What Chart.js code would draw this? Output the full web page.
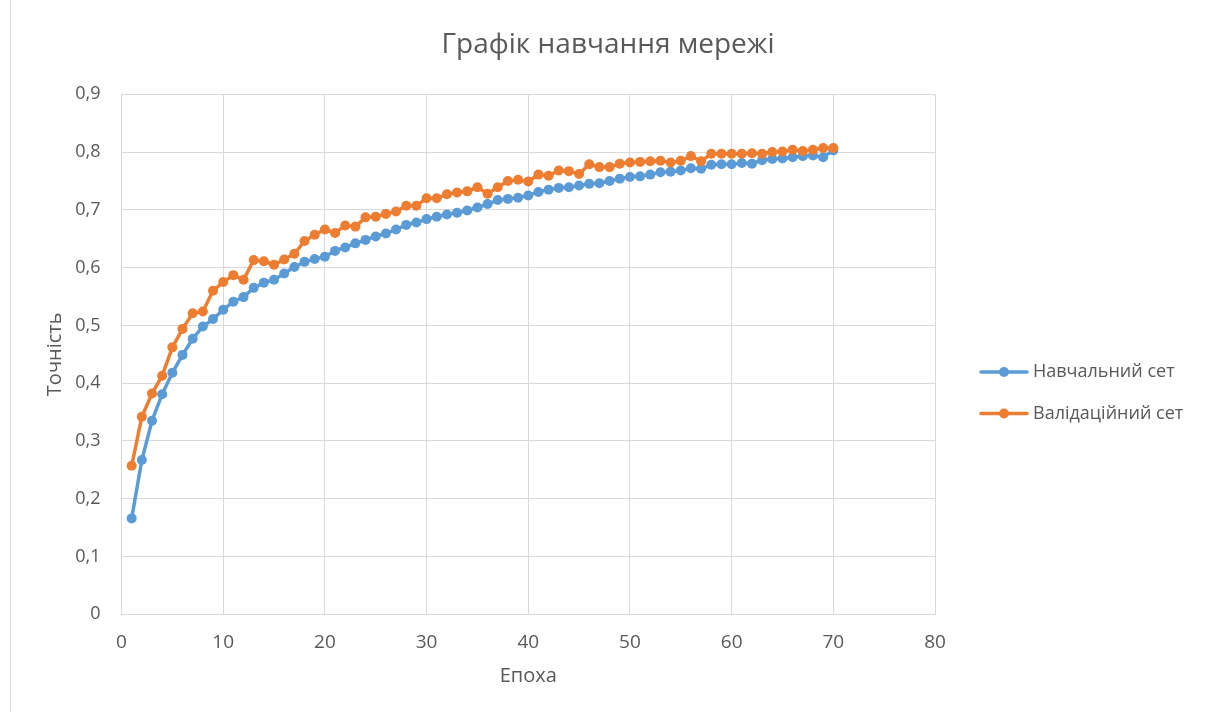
<!DOCTYPE html>
<html lang="uk">
<head>
<meta charset="utf-8">
<title>Графік навчання мережі</title>
<script src="https://cdn.jsdelivr.net/npm/chart.js@4.4.1/dist/chart.umd.min.js"></script>
<style>
  html, body { margin: 0; padding: 0; background: #ffffff; }
  #wrap { width: 1210px; height: 712px; position: relative; }
  canvas { display: block; }
</style>
</head>
<body>
<div id="wrap"><canvas id="chart" width="1210" height="712"></canvas></div>
<script>
// Epochs (x values)
const epochs = [
  1, 2, 3, 4, 5, 6, 7, 8, 9, 10,
  11, 12, 13, 14, 15, 16, 17, 18, 19, 20,
  21, 22, 23, 24, 25, 26, 27, 28, 29, 30,
  31, 32, 33, 34, 35, 36, 37, 38, 39, 40,
  41, 42, 43, 44, 45, 46, 47, 48, 49, 50,
  51, 52, 53, 54, 55, 56, 57, 58, 59, 60,
  61, 62, 63, 64, 65, 66, 67, 68, 69, 70
];

// Accuracy on the training set
const trainAccuracy = [
  0.166, 0.267, 0.335, 0.381, 0.418, 0.449, 0.477, 0.498, 0.511, 0.527,
  0.541, 0.549, 0.565, 0.574, 0.579, 0.590, 0.601, 0.610, 0.615, 0.619,
  0.629, 0.635, 0.642, 0.648, 0.654, 0.659, 0.666, 0.674, 0.678, 0.684,
  0.688, 0.692, 0.695, 0.699, 0.704, 0.710, 0.717, 0.719, 0.721, 0.725,
  0.731, 0.735, 0.738, 0.739, 0.742, 0.745, 0.746, 0.750, 0.754, 0.757,
  0.758, 0.761, 0.765, 0.766, 0.768, 0.772, 0.771, 0.778, 0.779, 0.779,
  0.781, 0.780, 0.786, 0.788, 0.789, 0.791, 0.793, 0.794, 0.791, 0.803
];

// Accuracy on the validation set
const valAccuracy = [
  0.257, 0.342, 0.382, 0.413, 0.462, 0.494, 0.521, 0.524, 0.560, 0.575,
  0.587, 0.579, 0.613, 0.611, 0.605, 0.614, 0.624, 0.646, 0.657, 0.666,
  0.660, 0.673, 0.671, 0.687, 0.688, 0.693, 0.697, 0.707, 0.707, 0.720,
  0.720, 0.727, 0.730, 0.732, 0.739, 0.728, 0.739, 0.750, 0.752, 0.749,
  0.761, 0.759, 0.768, 0.767, 0.762, 0.779, 0.774, 0.774, 0.780, 0.782,
  0.783, 0.784, 0.785, 0.782, 0.785, 0.793, 0.784, 0.797, 0.797, 0.797,
  0.797, 0.798, 0.797, 0.800, 0.801, 0.804, 0.802, 0.804, 0.807, 0.807
];

const chartTitle = 'Графік навчання мережі';
const seriesNames = ['Навчальний сет', 'Валідаційний сет'];
const seriesColors = ['#5B9BD5', '#ED7D31'];

// Axis ticks
const xTicks = [0, 10, 20, 30, 40, 50, 60, 70, 80];
const yTickLabels = ['0', '0,1', '0,2', '0,3', '0,4', '0,5', '0,6', '0,7', '0,8', '0,9'];

const TEXT = '#595959';
const GRID = '#D9D9D9';
const SANS = '"Open Sans", "Noto Sans", "DejaVu Sans", sans-serif';
const NARROW = '"Liberation Sans Narrow", "Open Sans", "Noto Sans", sans-serif';

const toPoints = (ys) => epochs.map((e, i) => ({ x: e, y: ys[i] }));

// Title centred on the whole canvas
const pageTitle = {
  id: 'pageTitle',
  afterDraw(chart) {
    const ctx = chart.ctx;
    ctx.save();
    ctx.fillStyle = TEXT;
    ctx.font = '28px ' + SANS;
    ctx.textAlign = 'center';
    ctx.textBaseline = 'middle';
    ctx.fillText(chartTitle, 608, 45);
    ctx.restore();
  }
};

// Legend drawn on the right, next to the plot
const sideLegend = {
  id: 'sideLegend',
  afterDraw(chart) {
    const ctx = chart.ctx;
    ctx.save();
    chart.data.datasets.forEach((ds, i) => {
      const y = 372 + i * 41.5;
      ctx.strokeStyle = ds.borderColor;
      ctx.lineWidth = 3.5;
      ctx.lineCap = 'round';
      ctx.beginPath();
      ctx.moveTo(981, y);
      ctx.lineTo(1027, y);
      ctx.stroke();
      ctx.fillStyle = ds.backgroundColor;
      ctx.beginPath();
      ctx.arc(1004, y, 5, 0, Math.PI * 2);
      ctx.fill();
      ctx.fillStyle = TEXT;
      ctx.font = '18px ' + SANS;
      ctx.textAlign = 'left';
      ctx.textBaseline = 'middle';
      ctx.fillText(ds.label, 1033, y);
    });
    ctx.restore();
  }
};

// Thin page edge line along the left side
const pageEdge = {
  id: 'pageEdge',
  beforeDraw(chart) {
    const ctx = chart.ctx;
    ctx.save();
    ctx.strokeStyle = '#DADADA';
    ctx.lineWidth = 1;
    ctx.beginPath();
    ctx.moveTo(10.5, 0);
    ctx.lineTo(10.5, 712);
    ctx.stroke();
    ctx.restore();
  }
};

new Chart(document.getElementById('chart'), {
  type: 'line',
  data: {
    datasets: [
      {
        label: seriesNames[0],
        data: toPoints(trainAccuracy),
        borderColor: seriesColors[0],
        backgroundColor: seriesColors[0],
        borderWidth: 3.5,
        pointRadius: 5,
        pointBorderWidth: 0,
        pointHoverRadius: 5,
        tension: 0,
        order: 2
      },
      {
        label: seriesNames[1],
        data: toPoints(valAccuracy),
        borderColor: seriesColors[1],
        backgroundColor: seriesColors[1],
        borderWidth: 3.5,
        pointRadius: 5,
        pointBorderWidth: 0,
        pointHoverRadius: 5,
        tension: 0,
        order: 1
      }
    ]
  },
  options: {
    responsive: false,
    animation: false,
    layout: { padding: { top: 94.3, right: 275, bottom: 0, left: 0 } },
    plugins: {
      legend: { display: false },
      tooltip: { enabled: false },
      title: { display: false }
    },
    scales: {
      x: {
        type: 'linear',
        min: 0,
        max: 80,
        afterBuildTicks(scale) { scale.ticks = xTicks.map(v => ({ value: v })); },
        afterFit(scale) { scale.height = 97.7; },
        grid: { color: GRID, lineWidth: 1, drawTicks: false },
        border: { color: GRID, width: 1 },
        ticks: {
          color: TEXT,
          padding: 17,
          maxRotation: 0,
          font: { family: NARROW, size: 19 }
        },
        title: {
          display: true,
          text: 'Епоха',
          color: TEXT,
          font: { family: NARROW, size: 20 },
          padding: { top: 0, bottom: 24 }
        }
      },
      y: {
        type: 'linear',
        min: 0,
        max: 0.9,
        afterBuildTicks(scale) { scale.ticks = yTickLabels.map((_, i) => ({ value: i / 10 })); },
        afterFit(scale) { scale.width = 121.5; },
        grid: { color: GRID, lineWidth: 1, drawTicks: false },
        border: { color: GRID, width: 1 },
        ticks: {
          color: TEXT,
          padding: 21,
          font: { family: SANS, size: 18 },
          callback: (v, i) => yTickLabels[i]
        },
        title: {
          display: true,
          text: 'Точність',
          color: TEXT,
          font: { family: SANS, size: 20 },
          padding: { top: 43, bottom: 0 }
        }
      }
    }
  },
  plugins: [pageEdge, pageTitle, sideLegend]
});
</script>
</body>
</html>
